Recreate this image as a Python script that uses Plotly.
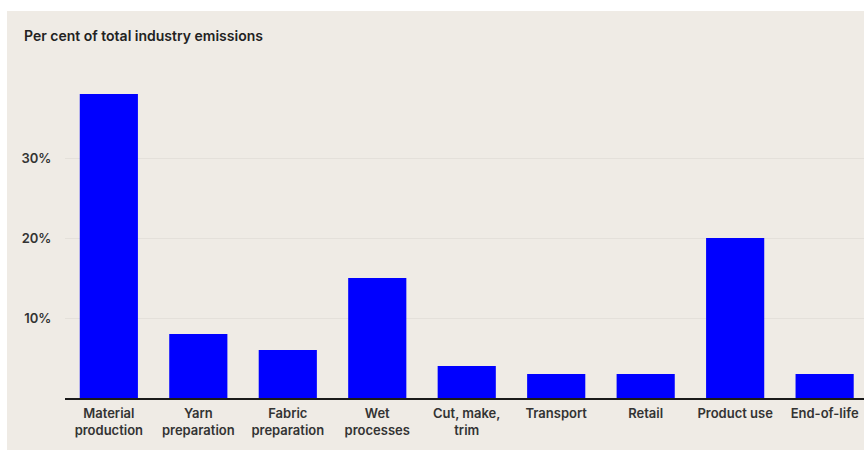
import plotly.graph_objects as go

categories = ["Material<br>production", "Yarn<br>preparation", "Fabric<br>preparation",
              "Wet<br>processes", "Cut, make,<br>trim", "Transport", "Retail",
              "Product use", "End-of-life"]
values = [38, 8, 6, 15, 4, 3, 3, 20, 3]
y_tickvals = [10, 20, 30]
y_ticktext = ["10%", "20%", "30%"]

W, H = 864, 451
ML, MR, MT, MB = 65, 0, 78, 53
pw = W - ML - MR
ph = H - MT - MB

BG = "#EFEBE5"
FONT = "Inter"

fig = go.Figure(go.Bar(
    x=list(range(len(categories))), y=values,
    marker=dict(color="#0000FF", line=dict(width=0)),
    hoverinfo="skip",
))

fig.update_layout(
    width=W, height=H,
    margin=dict(l=ML, r=MR, t=MT, b=MB, pad=0),
    paper_bgcolor="white",
    plot_bgcolor=BG,
    bargap=0.35,
    showlegend=False,
    font=dict(family=FONT, size=13, color="#333333"),
    title=dict(text="Per cent of total industry emissions",
               x=24 / W, xanchor="left", xref="container",
               y=1 - 36 / H, yanchor="middle", yref="container",
               font=dict(family=FONT, size=14, color="#222222", weight=600)),
    shapes=[dict(type="rect", xref="paper", yref="paper", layer="below",
                 x0=(7 - ML) / pw, x1=1.0 + 10 / pw,
                 y0=-(MB - 1) / ph, y1=1 + (MT - 11) / ph,
                 fillcolor=BG, line=dict(width=0))],
)

fig.update_xaxes(
    range=[-0.49, 8.44],
    tickmode="array", tickvals=list(range(len(categories))), ticktext=categories,
    showline=True, linecolor="#1a1a1a", linewidth=2,
    showgrid=False, zeroline=False,
    ticks="outside", ticklen=2, tickcolor="rgba(0,0,0,0)",
    tickfont=dict(family=FONT, size=13, color="#333333", weight=600),
    fixedrange=True,
)
fig.update_yaxes(
    range=[0, 40],
    tickmode="array", tickvals=y_tickvals, ticktext=y_ticktext,
    showgrid=True, gridcolor="#E4E0DA", gridwidth=1,
    zeroline=False, showline=False,
    ticks="outside", ticklen=10, tickcolor="rgba(0,0,0,0)",
    tickfont=dict(family=FONT, size=13, color="#333333", weight=600),
    fixedrange=True,
)

fig.write_html("out.html")
